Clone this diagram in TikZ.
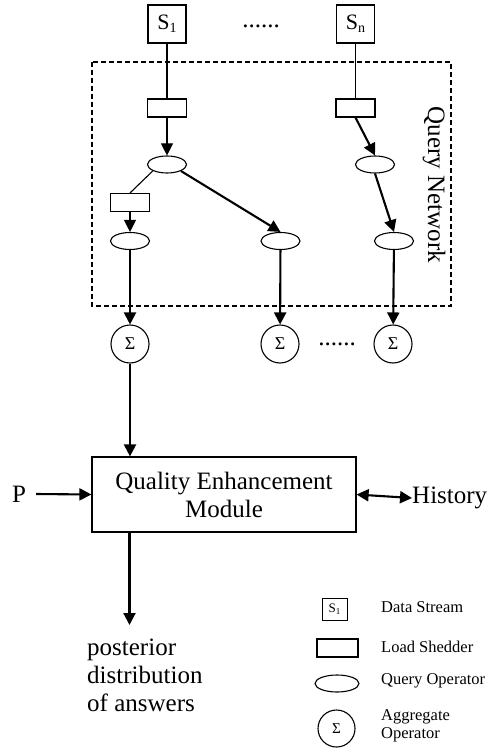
\documentclass[tikz,border=0pt]{standalone}
\usepackage{fontspec}
\setmainfont{Liberation Serif}
\usetikzlibrary{arrows.meta,shapes.geometric}
\newcommand{\subidx}[2]{#1{\fontsize{14}{14}\selectfont\raisebox{-3pt}{#2}}}
\begin{document}
\begin{tikzpicture}[x=1pt,y=-1pt,
  thin line/.style={line width=1.1pt},
  thick line/.style={line width=2.1pt},
  tip/.style={-{Triangle[length=12pt,width=12pt]}},
  streambox/.style={draw,line width=1.1pt,minimum width=38pt,minimum height=38pt,inner sep=0pt,font=\fontsize{22}{22}\selectfont},
  shedder/.style={draw,line width=1.1pt,minimum width=39pt,minimum height=18pt,inner sep=0pt},
  operator/.style={draw,ellipse,line width=1.1pt,minimum width=39pt,minimum height=17pt,inner sep=0pt},
  aggregate/.style={draw,circle,line width=1.1pt,minimum size=38pt,inner sep=0pt,font=\fontsize{18}{18}\selectfont},
  bigtext/.style={font=\fontsize{25}{28}\selectfont},
  legendtext/.style={anchor=west,font=\fontsize{16.5}{18}\selectfont,align=left,inner sep=0pt}]
\useasboundingbox (0,0) rectangle (488,751);

% query network frame
\draw[line width=1.1pt,dash pattern=on 5pt off 3pt] (92,62) rectangle (451,306);
\node[bigtext,rotate=-90] (qnlabel) at (434,185) {Query Network};

% streams
\node[streambox] (s1) at (167,24) {\subidx{S}{1}};
\node[streambox] (sn) at (355.5,24) {\subidx{S}{n}};
\node[bigtext,inner sep=0pt] (topdots) at (261,26) {......};

% load shedders
\node[shedder] (ls1) at (167,108) {};
\node[shedder] (lsn) at (355.5,108) {};
\node[shedder] (ls2) at (130,202.5) {};

% query operators
\node[operator] (q1) at (167,164.5) {};
\node[operator] (qn) at (375,164.5) {};
\node[operator] (q2) at (130,241) {};
\node[operator] (q3) at (280.5,241) {};
\node[operator] (q4) at (394,241) {};

% aggregate operators
\node[aggregate] (a1) at (130,344) {Σ};
\node[aggregate] (a2) at (280,344) {Σ};
\node[aggregate] (a3) at (393,344) {Σ};
\node[bigtext,inner sep=0pt] (aggdots) at (337,344) {......};

% quality enhancement module
\node[draw,line width=1.2pt,minimum width=264pt,minimum height=75pt,inner sep=0pt,bigtext,align=center] (qem) at (224,494.5) {Quality Enhancement\\Module};
\node[bigtext,inner sep=0pt] (p) at (19,494) {P};
\node[bigtext,anchor=west,inner sep=0pt] (hist) at (412,498) {History};
\coordinate (out) at (129.5,625);
\node[bigtext,anchor=north west,align=left,inner sep=0pt] (post) at (87,639) {posterior\\distribution\\of answers};

% connectors
\draw[thin line] (s1) -- (ls1);
\draw[thin line,tip] (ls1) -- (q1);
\draw[thin line] (sn) -- (lsn);
\draw[thick line,tip] (lsn.south) -- (qn.north);
\draw[thin line] (q1.south west) -- (ls2.north);
\draw[thin line,tip] (ls2) -- (q2);
\draw[thick line,tip] (q1.-25) -- (q3.north);
\draw[thick line,tip] (qn.south) -- (q4.north);
\draw[thick line,tip] (q2) -- (a1);
\draw[thick line,tip] (q3) -- (a2);
\draw[thick line,tip] (q4) -- (a3);
\draw[thick line,tip] (a1.south) -- (a1.south |- qem.north);
\draw[thick line,tip] (p.east) ++(10,0) -- (qem.west);
\draw[thick line,{Triangle[length=12pt,width=12pt]}-{Triangle[length=12pt,width=12pt]}] (qem.east) -- (hist.west);
\draw[thick line,tip] (qem.south -| out) -- (out);

% legend
\node[draw,line width=0.7pt,minimum width=25pt,minimum height=22pt,inner sep=0pt,font=\fontsize{13}{13}\selectfont] (lgs) at (334.5,609) {S{\fontsize{9}{9}\selectfont\raisebox{-1.5pt}{1}}};
\node[legendtext] (lgst) at (381,607) {Data Stream};
\node[shedder,minimum width=41pt] (lgl) at (337.5,648) {};
\node[legendtext] (lglt) at (381,647) {Load Shedder};
\node[operator,minimum width=44pt] (lgq) at (337,683.5) {};
\node[legendtext] (lgqt) at (381,681) {Query Operator};
\node[aggregate,minimum size=37pt,font=\fontsize{15}{15}\selectfont] (lga) at (336.5,728.5) {Σ};
\node[legendtext] (lgat) at (381,726) {Aggregate\\Operator};
\end{tikzpicture}
\end{document}
